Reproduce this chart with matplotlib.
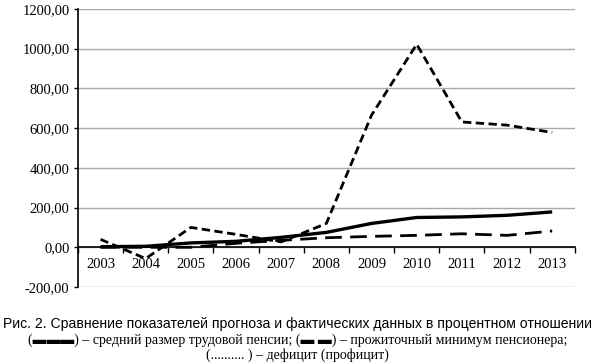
import matplotlib.pyplot as plt
from matplotlib.ticker import FuncFormatter

# --- Data ---
years = ["2003", "2004", "2005", "2006", "2007", "2008",
         "2009", "2010", "2011", "2012", "2013"]
pension = [3, 5, 22, 30, 50, 75, 120, 150, 153, 161, 178]
minimum = [0, 0, 0, 20, 35, 48, 55, 60, 68, 60, 82]
deficit = [40, -57, 100, 65, 27, 120, 665, 1022, 631, 615, 578]

SERIF = "Liberation Serif"
SANS = "Liberation Sans"

fig = plt.figure(figsize=(5.95, 3.64), dpi=100, facecolor="white")
ax = fig.add_axes([0.131, 0.2115, 0.835, 0.764])

x = range(len(years))
ax.plot(x, pension, color="black", lw=2.4, solid_capstyle="butt", zorder=4)
ax.plot(x, minimum, color="black", lw=2.0, dashes=(6, 3), zorder=3)
ax.plot(x, deficit, color="black", lw=2.0, dashes=(3, 1.6), zorder=5)

ax.set_xlim(-0.5, len(years) - 0.5)
ax.set_ylim(-200, 1200)
ax.set_yticks(range(-200, 1201, 200))
ax.yaxis.set_major_formatter(FuncFormatter(lambda v, p: f"{v:.2f}".replace(".", ",")))
ax.grid(axis="y", color="#a8a8a8", lw=1.0, zorder=0)
ax.set_axisbelow(True)

# x axis sits on the zero line, ticks between categories
ax.spines["bottom"].set_position(("data", 0))
ax.spines["bottom"].set_linewidth(1.2)
ax.spines["left"].set_linewidth(1.2)
ax.spines["top"].set_visible(False)
ax.spines["right"].set_visible(False)
ax.set_xticks([i - 0.5 for i in range(len(years) + 1)])
ax.set_xticklabels([])
ax.set_xticks(list(x), minor=True)
ax.set_xticklabels(years, minor=True)
ax.tick_params(axis="x", which="major", direction="out", length=4, width=1)
ax.tick_params(axis="x", which="minor", length=0, pad=8)
ax.tick_params(axis="y", direction="out", length=3, width=1, pad=3)
for lab in ax.get_xticklabels(minor=True) + ax.get_yticklabels():
    lab.set_fontfamily(SERIF)
    lab.set_fontsize(10.5)

# caption
fig.text(0.5, 1 - 324 / 364, "Рис. 2. Сравнение показателей прогноза и фактических данных в процентном отношении",
         ha="center", va="center", fontfamily=SANS, fontsize=10.1)
fig.text(0.5, 1 - 340 / 364,
         "(▬▬▬) – средний размер трудовой пенсии; (▬ ▬) – прожиточный минимум пенсионера;",
         ha="center", va="center", fontfamily=[SERIF, "DejaVu Sans"], fontsize=10)
fig.text(0.5, 1 - 355 / 364, "(.......... ) – дефицит (профицит)",
         ha="center", va="center", fontfamily=SERIF, fontsize=10)

fig.savefig("out.png", dpi=100, facecolor="white")
